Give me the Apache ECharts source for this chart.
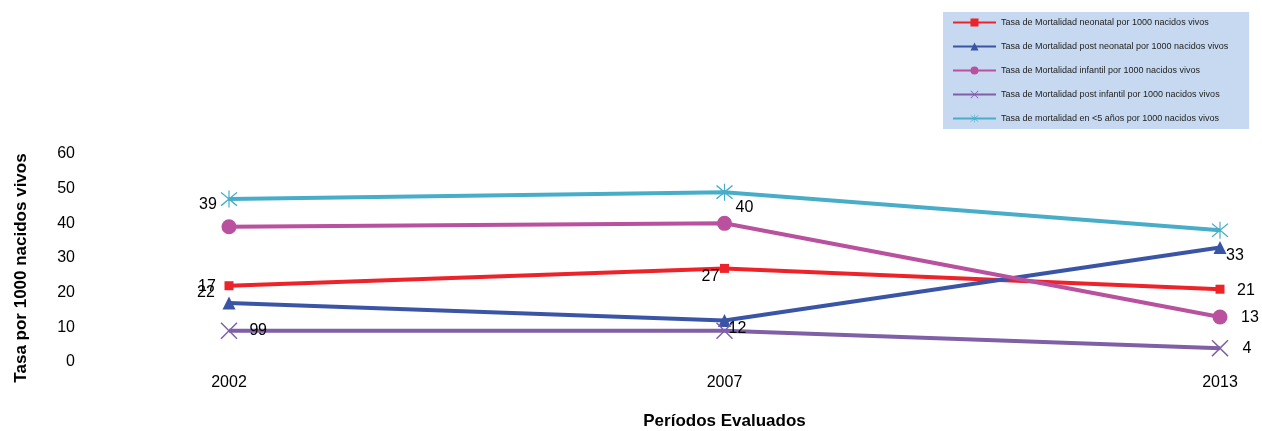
<!DOCTYPE html>
<html><head><meta charset="utf-8">
<script src="https://cdn.jsdelivr.net/npm/echarts@6/dist/echarts.min.js"></script>
<style>html,body{margin:0;padding:0;background:#fff}#c{width:1262px;height:431px}</style>
</head><body><div id="c"></div>
<script>
const categories = ['2002', '2007', '2013'];
const neonatal = [22, 27, 21];
const postNeonatal = [17, 12, 33];
const infantil = [39, 40, 13];
const postInfantil = [9, 9, 4];
const menor5 = [47, 49, 38];
const names = [
  'Tasa de Mortalidad neonatal por 1000 nacidos vivos',
  'Tasa de Mortalidad post neonatal por 1000 nacidos vivos',
  'Tasa de Mortalidad infantil por 1000 nacidos vivos',
  'Tasa de Mortalidad post infantil por 1000 nacidos vivos',
  'Tasa de mortalidad en <5 años por 1000 nacidos vivos'
];
const yTicks = [0, 10, 20, 30, 40, 50, 60];

const xPath = 'path://M0,1.2 L1.2,0 L10,8.8 L18.8,0 L20,1.2 L11.2,10 L20,18.8 L18.8,20 L10,11.2 L1.2,20 L0,18.8 L8.8,10 Z';
const starPath = 'path://M0,1.2 L1.2,0 L10,8.8 L18.8,0 L20,1.2 L11.2,10 L20,18.8 L18.8,20 L10,11.2 L1.2,20 L0,18.8 L8.8,10 Z M9.3,-2 L10.7,-2 L10.7,22 L9.3,22 Z';
const FONT = 'Liberation Sans, Arial, sans-serif';

function withLabels(values, offsets) {
  return values.map((v, i) => offsets[i] ? {
    value: v,
    label: { show: true, position: 'inside', offset: offsets[i], color: '#000', fontSize: 16, fontFamily: FONT }
  } : { value: v });
}

function mk(name, values, color, symbol, size, offsets) {
  return {
    name, type: 'line', data: withLabels(values, offsets),
    symbol, symbolSize: size, showAllSymbol: true,
    lineStyle: { color, width: 4 },
    itemStyle: { color },
    emphasis: { disabled: true }
  };
}

const chart = echarts.init(document.getElementById('c'));
chart.setOption({
  animation: false,
  grid: { left: 229, right: 42, top: 154, bottom: 69 },
  legend: {
    orient: 'vertical', left: 943, top: 12,
    backgroundColor: '#c6d9f0',
    padding: [6, 21, 6, 9],
    itemWidth: 43, itemHeight: 10, itemGap: 15,
    textStyle: { fontSize: 9, color: '#222', fontFamily: FONT },
    data: names
  },
  xAxis: {
    type: 'category', data: categories, boundaryGap: false,
    axisLine: { show: false }, axisTick: { show: false }, splitLine: { show: false },
    axisLabel: { color: '#000', fontSize: 16, margin: 13, fontFamily: FONT },
    name: 'Períodos Evaluados', nameLocation: 'middle', nameGap: 51,
    nameTextStyle: { fontSize: 17, fontWeight: 'bold', color: '#000', fontFamily: FONT }
  },
  yAxis: {
    type: 'value', min: yTicks[0], max: yTicks[yTicks.length - 1], interval: 10,
    axisLine: { show: false }, axisTick: { show: false }, splitLine: { show: false },
    axisLabel: { color: '#000', fontSize: 16, margin: 154, fontFamily: FONT },
    name: 'Tasa por 1000 nacidos vivos', nameLocation: 'middle', nameGap: 199, nameRotate: 90,
    nameTextStyle: { fontSize: 17, fontWeight: 'bold', color: '#000', fontFamily: FONT, padding: [0, 20, 0, 0] }
  },
  series: [
    mk(names[0], neonatal, '#ee2229', 'rect', 9, [[-23, 7], [-14, 8], [26, 1]]),
    mk(names[1], postNeonatal, '#3a55a5', 'triangle', 13, [[-22, -16], [13, 8], [15, 8]]),
    mk(names[2], infantil, '#b9519e', 'circle', 15, [[-21, -22], [20, -16], [30, 1]]),
    mk(names[3], postInfantil, '#7f5fa6', xPath, 17, [[25, 0], [-462, 0], [27, 0]]),
    mk(names[4], menor5, '#48adc8', starPath, 17, [null, null, null])
  ]
});
</script></body></html>
